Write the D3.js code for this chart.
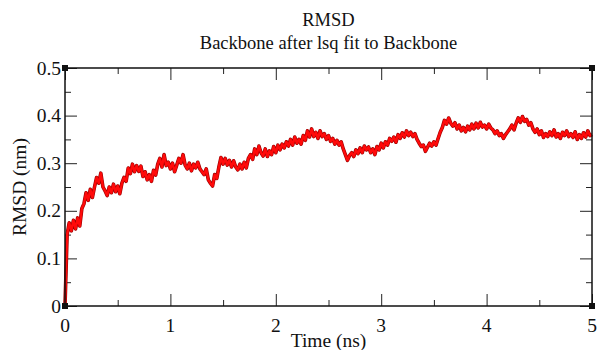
<!DOCTYPE html>
<html>
<head>
<meta charset="utf-8">
<script src="https://cdn.jsdelivr.net/npm/d3@7"></script>
<style>
  body { margin: 0; background: #fff; }
  text { font-family: "Liberation Serif", "DejaVu Serif", serif; fill: #111; }
</style>
</head>
<body>
<svg id="chart" width="598" height="350"></svg>
<script>
const title = "RMSD"
const subtitle = "Backbone after lsq fit to Backbone"
const xLabel = "Time (ns)"
const yLabel = "RMSD (nm)"

const xTicks = [0, 1, 2, 3, 4, 5]
const yTicks = [0, 0.1, 0.2, 0.3, 0.4, 0.5]
const yTickLabels = ["0", "0.1", "0.2", "0.3", "0.4", "0.5"]

// sampling step of the trace (ns)
const dt = 0.02
// RMSD (nm), every 0.02 ns
const rmsd = [
  0, 0.15, 0.175, 0.158, 0.18,
  0.162, 0.185, 0.168, 0.205, 0.215,
  0.238, 0.222, 0.245, 0.228, 0.25,
  0.27, 0.258, 0.279, 0.25, 0.242,
  0.232, 0.25, 0.238, 0.256, 0.24,
  0.252, 0.236, 0.258, 0.27, 0.262,
  0.29, 0.278, 0.298, 0.282, 0.295,
  0.283, 0.294, 0.272, 0.282, 0.265,
  0.276, 0.262, 0.285, 0.275, 0.298,
  0.31, 0.292, 0.318, 0.295, 0.302,
  0.288, 0.3, 0.282, 0.296, 0.31,
  0.3, 0.318, 0.296, 0.288, 0.3,
  0.284, 0.298, 0.29, 0.302, 0.288,
  0.282, 0.276, 0.288, 0.265, 0.258,
  0.252, 0.276, 0.268, 0.292, 0.312,
  0.298, 0.31, 0.296, 0.306, 0.292,
  0.305, 0.292, 0.286, 0.298, 0.288,
  0.302, 0.29, 0.31, 0.318, 0.308,
  0.33, 0.318, 0.336, 0.322, 0.315,
  0.33, 0.314, 0.326, 0.318, 0.335,
  0.322, 0.338, 0.328, 0.34, 0.332,
  0.345, 0.336, 0.35, 0.338, 0.355,
  0.342, 0.35, 0.34, 0.358, 0.348,
  0.368, 0.355, 0.372, 0.356, 0.365,
  0.352, 0.368, 0.356, 0.362, 0.35,
  0.358, 0.346, 0.352, 0.34, 0.348,
  0.338, 0.345, 0.33, 0.318, 0.306,
  0.316, 0.322, 0.314, 0.328, 0.32,
  0.332, 0.322, 0.336, 0.328, 0.334,
  0.322, 0.33, 0.318, 0.335, 0.328,
  0.342, 0.332, 0.345, 0.338, 0.352,
  0.346, 0.355, 0.344, 0.36, 0.352,
  0.364, 0.355, 0.368, 0.358, 0.365,
  0.356, 0.362, 0.35, 0.342, 0.335,
  0.338, 0.325, 0.334, 0.342, 0.336,
  0.345, 0.338, 0.352, 0.365, 0.375,
  0.39, 0.382, 0.395, 0.384, 0.378,
  0.385, 0.372, 0.38, 0.368, 0.375,
  0.366, 0.378, 0.37, 0.382, 0.372,
  0.384, 0.374, 0.386, 0.376, 0.38,
  0.372, 0.382, 0.374, 0.37, 0.362,
  0.368, 0.358, 0.362, 0.352, 0.36,
  0.366, 0.372, 0.38, 0.37, 0.384,
  0.395, 0.386, 0.398, 0.388, 0.392,
  0.38, 0.385, 0.372, 0.365, 0.372,
  0.36, 0.368, 0.354, 0.362, 0.356,
  0.366, 0.358, 0.37, 0.355, 0.362,
  0.352, 0.365, 0.358, 0.368, 0.356,
  0.362, 0.354, 0.366, 0.35, 0.36,
  0.352, 0.364, 0.355, 0.368, 0.358,
  0.36
]

const svg = d3.select("#chart")
const x0 = 65, x1 = 592, y0 = 68, y1 = 306

const x = d3.scaleLinear().domain([0, 5]).range([x0, x1])
const y = d3.scaleLinear().domain([0, 0.5]).range([y1, y0])

// titles
svg.append("text").attr("x", (x0 + x1) / 2).attr("y", 26)
    .attr("text-anchor", "middle").style("font-size", "18.5px").text(title)
svg.append("text").attr("x", (x0 + x1) / 2).attr("y", 49)
    .attr("text-anchor", "middle").style("font-size", "18.5px").text(subtitle)

// ticks, all pointing inward
const major = 12, minor = 6
const xMinor = [0.5, 1.5, 2.5, 3.5, 4.5]
const yMinor = [0.05, 0.15, 0.25, 0.35, 0.45]

svg.append("g").attr("transform", `translate(0,${y1})`)
    .call(d3.axisTop(x).tickValues(xTicks).tickSize(major).tickFormat(""))
svg.append("g").attr("transform", `translate(0,${y1})`)
    .call(d3.axisTop(x).tickValues(xMinor).tickSize(minor).tickFormat(""))
svg.append("g").attr("transform", `translate(0,${y0})`)
    .call(d3.axisBottom(x).tickValues(xTicks).tickSize(major).tickFormat(""))
svg.append("g").attr("transform", `translate(0,${y0})`)
    .call(d3.axisBottom(x).tickValues(xMinor).tickSize(minor).tickFormat(""))
svg.append("g").attr("transform", `translate(${x0},0)`)
    .call(d3.axisRight(y).tickValues(yTicks).tickSize(major).tickFormat(""))
svg.append("g").attr("transform", `translate(${x0},0)`)
    .call(d3.axisRight(y).tickValues(yMinor).tickSize(minor).tickFormat(""))
svg.append("g").attr("transform", `translate(${x1},0)`)
    .call(d3.axisLeft(y).tickValues(yTicks).tickSize(major).tickFormat(""))
svg.append("g").attr("transform", `translate(${x1},0)`)
    .call(d3.axisLeft(y).tickValues(yMinor).tickSize(minor).tickFormat(""))

svg.selectAll(".domain").remove()
svg.selectAll(".tick line").attr("stroke", "#222").attr("stroke-width", 1)

// tick labels
svg.append("g").selectAll("text").data(xTicks).join("text")
    .attr("x", d => x(d)).attr("y", y1 + 26)
    .attr("text-anchor", "middle").style("font-size", "19.5px")
    .text(d => d)
svg.append("g").selectAll("text").data(yTicks).join("text")
    .attr("x", x0 - 4).attr("y", d => y(d) + 6.5)
    .attr("text-anchor", "end").style("font-size", "19.5px")
    .text((d, i) => yTickLabels[i])

// axis labels
svg.append("text").attr("x", (x0 + x1) / 2).attr("y", y1 + 41)
    .attr("text-anchor", "middle").style("font-size", "19.5px").text(xLabel)
svg.append("text")
    .attr("transform", `translate(26,${(y0 + y1) / 2}) rotate(-90)`)
    .attr("text-anchor", "middle").style("font-size", "19.5px").text(yLabel)

// trace
const line = d3.line().x((d, i) => x(i * dt)).y(d => y(d))
svg.append("path").datum(rmsd)
    .attr("d", line)
    .attr("fill", "none")
    .attr("stroke", "#9a0000")
    .attr("stroke-width", 3.6)
    .attr("stroke-linejoin", "round")
svg.append("path").datum(rmsd)
    .attr("d", line)
    .attr("fill", "none")
    .attr("stroke", "#ff0a0a")
    .attr("stroke-width", 2.4)
    .attr("stroke-linejoin", "round")

// frame
svg.append("rect")
    .attr("x", x0).attr("y", y0)
    .attr("width", x1 - x0).attr("height", y1 - y0)
    .attr("fill", "none").attr("stroke", "#111").attr("stroke-width", 1.5)

// corner markers
const corners = [[0, 0], [5, 0], [0, 0.5], [5, 0.5]]
svg.append("g").selectAll("rect").data(corners).join("rect")
    .attr("x", d => x(d[0]) - 3).attr("y", d => y(d[1]) - 3)
    .attr("width", 6).attr("height", 6).attr("fill", "#111")
</script>
</body>
</html>
